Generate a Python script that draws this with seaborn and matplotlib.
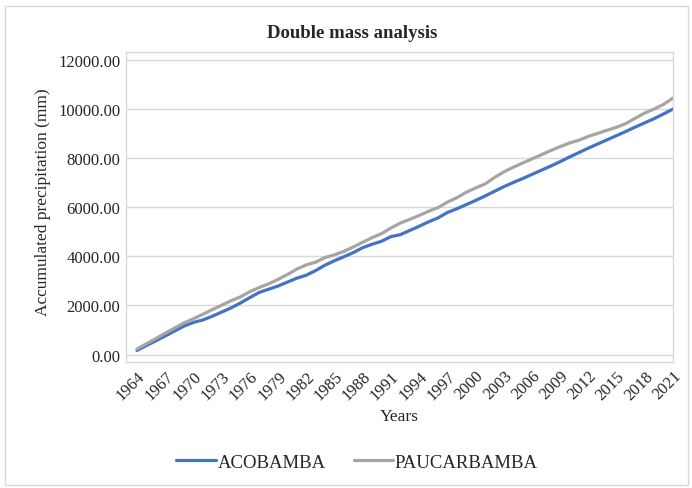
import numpy as np
import pandas as pd
import matplotlib
matplotlib.use("Agg")
import matplotlib.pyplot as plt
from matplotlib.patches import Rectangle
import seaborn as sns

# %%
years = list(range(1964, 2022))

acobamba = [170, 370, 560, 760, 960, 1160, 1310, 1410, 1560, 1730,
            1900, 2100, 2320, 2530, 2660, 2790, 2950, 3110, 3230, 3420,
            3640, 3820, 3980, 4150, 4350, 4490, 4610, 4800, 4880, 5050,
            5220, 5400, 5560, 5780, 5930, 6100, 6270, 6450, 6640, 6830,
            7000, 7160, 7330, 7500, 7670, 7850, 8040, 8220, 8400, 8570,
            8740, 8910, 9080, 9260, 9430, 9600, 9790, 9990]

paucarbamba = [230, 440, 650, 870, 1080, 1290, 1460, 1640, 1830, 2010,
               2190, 2350, 2560, 2730, 2880, 3060, 3260, 3480, 3650, 3760,
               3950, 4060, 4200, 4380, 4570, 4760, 4920, 5150, 5350, 5500,
               5660, 5830, 5980, 6200, 6380, 6600, 6780, 6940, 7200, 7430,
               7620, 7790, 7960, 8130, 8300, 8460, 8610, 8720, 8880, 9000,
               9130, 9250, 9400, 9620, 9830, 9990, 10180, 10440]

stations = ["ACOBAMBA", "PAUCARBAMBA"]
colors = ["#4472C4", "#A5A5A5"]

# %%
df = pd.DataFrame({"year": years, "ACOBAMBA": acobamba, "PAUCARBAMBA": paucarbamba})
df = df.melt(id_vars="year", var_name="station", value_name="precip")

sns.set_style("white")
plt.rcParams["font.family"] = ["Liberation Serif", "DejaVu Serif"]

fig = plt.figure(figsize=(6.92, 4.89), dpi=100)
ax = fig.add_axes([126 / 692, 126 / 489, 547 / 692, 310 / 489])

sns.lineplot(data=df, x="year", y="precip", hue="station", hue_order=stations,
             palette=colors, linewidth=2.3, ax=ax, legend=False)

ax.set_xlim(1962.83, 2021.0)
ax.set_ylim(-300, 12310)
ax.set_yticks(np.arange(0, 12001, 2000))
ax.set_yticklabels([f"{v:.2f}" for v in np.arange(0, 12001, 2000)], fontsize=12)
ax.set_xticks(years[::3])
ax.set_xticklabels([str(y) for y in years[::3]], rotation=45, ha="right",
                   rotation_mode="anchor", fontsize=12)
ax.tick_params(length=0)
ax.tick_params(axis="x", pad=4)
ax.tick_params(axis="y", pad=4)
ax.grid(axis="y", color="#d9d9d9", linewidth=1)
for s in ax.spines.values():
    s.set_color("#d9d9d9")
    s.set_linewidth(1)

ax.set_xlabel("Years", fontsize=12.5, labelpad=4)
ax.set_ylabel("Accumulated precipitation (mm)", fontsize=12.5)
ax.yaxis.set_label_coords(-0.137, 0.519)
fig.text(352 / 692, 1 - 33 / 489, "Double mass analysis", ha="center", va="center",
         fontsize=13.5, fontweight="bold")

handles = [plt.Line2D([], [], color=c, linewidth=2.3) for c in colors]
fig.legend(handles, stations, loc="center", bbox_to_anchor=(357 / 692, 1 - 463 / 489),
           ncol=2, frameon=False, fontsize=13.5, handlelength=2.1, handletextpad=0.1,
           columnspacing=1.5)

fig.patches.append(Rectangle((5 / 692, 3 / 489), 683 / 692, 479 / 489,
                             transform=fig.transFigure, fill=False,
                             edgecolor="#d9d9d9", linewidth=1))

fig.savefig("out.png", dpi=100)
